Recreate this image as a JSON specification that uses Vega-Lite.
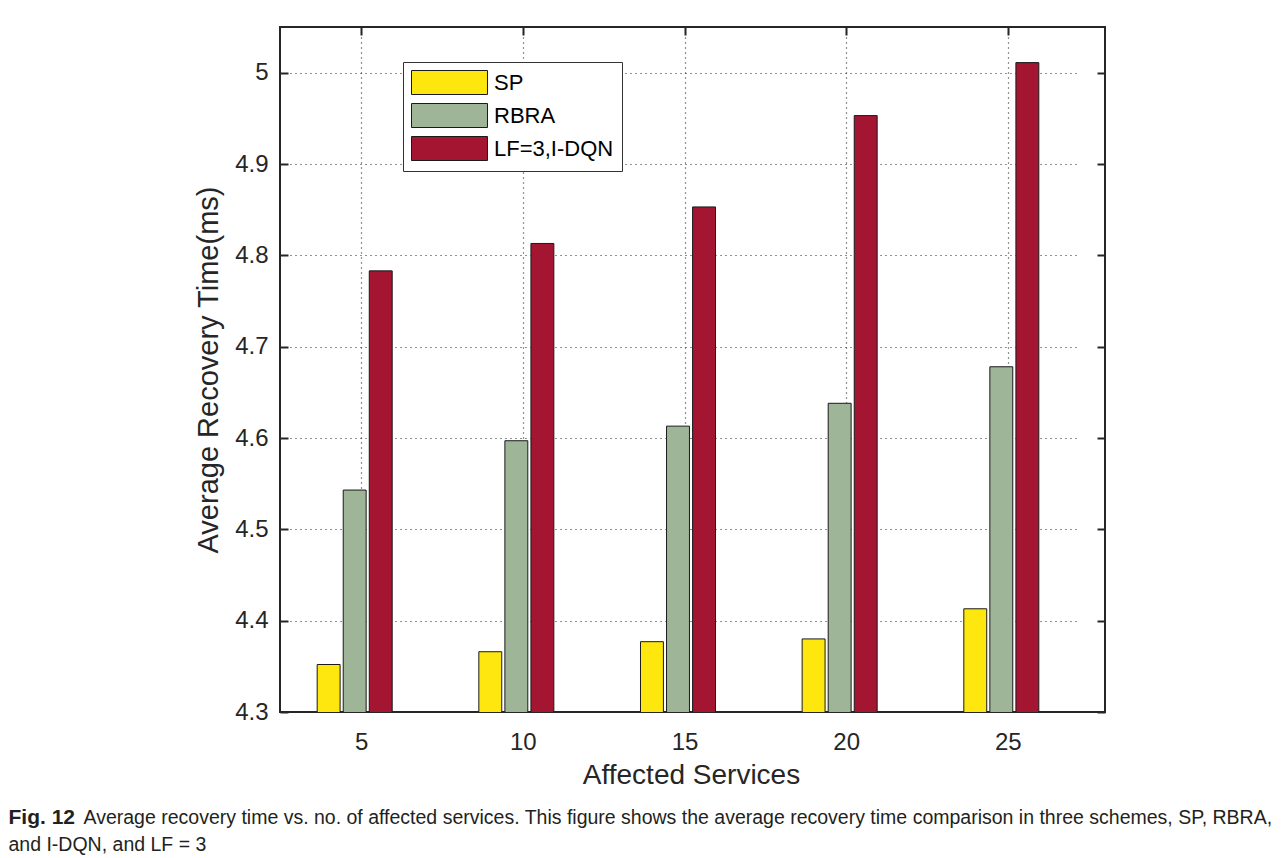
{
  "$schema": "https://vega.github.io/schema/vega-lite/v6.json",
  "width": 825,
  "height": 685,
  "autosize": "none",
  "padding": {"left": 280, "top": 27, "right": 179, "bottom": 146},
  "background": "white",
  "config": {
    "font": "Liberation Sans",
    "view": {"stroke": "#262626", "strokeWidth": 2}
  },
  "data": {
    "values": [
      {"services": 5, "scheme": "SP", "time": 4.352},
      {"services": 5, "scheme": "RBRA", "time": 4.543},
      {"services": 5, "scheme": "LF=3,I-DQN", "time": 4.783},
      {"services": 10, "scheme": "SP", "time": 4.366},
      {"services": 10, "scheme": "RBRA", "time": 4.597},
      {"services": 10, "scheme": "LF=3,I-DQN", "time": 4.813},
      {"services": 15, "scheme": "SP", "time": 4.377},
      {"services": 15, "scheme": "RBRA", "time": 4.613},
      {"services": 15, "scheme": "LF=3,I-DQN", "time": 4.853},
      {"services": 20, "scheme": "SP", "time": 4.380},
      {"services": 20, "scheme": "RBRA", "time": 4.638},
      {"services": 20, "scheme": "LF=3,I-DQN", "time": 4.953},
      {"services": 25, "scheme": "SP", "time": 4.413},
      {"services": 25, "scheme": "RBRA", "time": 4.678},
      {"services": 25, "scheme": "LF=3,I-DQN", "time": 5.011}
    ]
  },
  "layer": [
    {
      "mark": {"type": "bar", "stroke": "#1a1a1a", "strokeWidth": 1, "clip": true},
      "encoding": {
        "x": {
          "field": "services",
          "type": "ordinal",
          "scale": {"range": [0, 796], "paddingInner": 0.536, "paddingOuter": 0.23},
          "axis": {
            "orient": "bottom",
            "title": "Affected Services",
            "labelAngle": 0,
            "domain": false,
            "ticks": true,
            "tickSize": -8,
            "tickWidth": 2,
            "tickColor": "#262626",
            "tickOffset": 6.5,
            "grid": true,
            "gridColor": "#262626",
            "gridDash": [1, 4],
            "gridWidth": 1.2,
            "labelFontSize": 24,
            "labelColor": "#262626",
            "labelPadding": 26,
            "titleFontSize": 28,
            "titleFontWeight": "normal",
            "titleColor": "#262626",
            "titlePadding": 7,
            "titleX": 411
          }
        },
        "xOffset": {
          "field": "scheme",
          "type": "nominal",
          "sort": ["SP", "RBRA", "LF=3,I-DQN"],
          "scale": {"paddingInner": 0.12, "paddingOuter": 0}
        },
        "y": {
          "field": "time",
          "type": "quantitative",
          "scale": {"domain": [4.3, 5.05], "zero": false, "nice": false},
          "axis": {
            "orient": "left",
            "title": "Average Recovery Time(ms)",
            "values": [4.3, 4.4, 4.5, 4.6, 4.7, 4.8, 4.9, 5],
            "format": "~g",
            "domain": false,
            "tickSize": -8,
            "tickWidth": 2,
            "tickColor": "#262626",
            "grid": true,
            "gridColor": "#262626",
            "gridDash": [1, 4],
            "gridWidth": 1.2,
            "labelFontSize": 24,
            "labelColor": "#262626",
            "labelPadding": 20,
            "titleFontSize": 29,
            "titleFontWeight": "normal",
            "titleColor": "#262626",
            "titlePadding": 11
          }
        },
        "color": {
          "field": "scheme",
          "type": "nominal",
          "scale": {"domain": ["SP", "RBRA", "LF=3,I-DQN"], "range": ["#fee60f", "#9eb697", "#a31530"]},
          "legend": {
            "title": null,
            "orient": "none",
            "legendX": 123,
            "legendY": 35,
            "padding": 8,
            "strokeColor": "#333333",
            "fillColor": "white",
            "symbolType": "M-1,-1H5.333V1H-1Z",
            "symbolSize": 576,
            "symbolStrokeColor": "#1a1a1a",
            "symbolStrokeWidth": 1,
            "symbolOpacity": 1,
            "labelFont": "Liberation Sans",
            "labelFontSize": 22,
            "labelColor": "#000000",
            "labelOffset": 58,
            "rowPadding": 4
          }
        }
      }
    },
    {
      "mark": {"type": "bar", "opacity": 0},
      "encoding": {
        "x": {
          "field": "services",
          "type": "ordinal",
          "axis": {
            "orient": "top",
            "title": null,
            "labels": false,
            "domain": false,
            "grid": false,
            "tickSize": -8,
            "tickWidth": 2,
            "tickColor": "#262626",
            "tickOffset": 6.5
          }
        },
        "y": {
          "field": "time",
          "type": "quantitative",
          "axis": {
            "orient": "right",
            "title": null,
            "labels": false,
            "domain": false,
            "grid": false,
            "values": [4.3, 4.4, 4.5, 4.6, 4.7, 4.8, 4.9, 5],
            "tickSize": -8,
            "tickWidth": 2,
            "tickColor": "#262626"
          }
        }
      }
    },
    {
      "mark": {"type": "rule", "opacity": 0},
      "encoding": {
        "x": {
          "field": "services",
          "type": "ordinal",
          "axis": {
            "orient": "bottom",
            "title": "Fig. 12",
            "labels": false,
            "ticks": false,
            "domain": false,
            "grid": false,
            "titleFont": "Liberation Sans",
            "titleFontSize": 21,
            "titleFontWeight": "bold",
            "titleColor": "#231f20",
            "titleAnchor": "start",
            "titleAlign": "left",
            "titleBaseline": "alphabetic",
            "titleX": -272,
            "titleY": 111
          }
        }
      }
    },
    {
      "mark": {"type": "rule", "opacity": 0},
      "encoding": {
        "x": {
          "field": "services",
          "type": "ordinal",
          "axis": {
            "orient": "bottom",
            "title": "Average recovery time vs. no. of affected services. This figure shows the average recovery time comparison in three schemes, SP, RBRA,",
            "labels": false,
            "ticks": false,
            "domain": false,
            "grid": false,
            "titleFont": "Liberation Sans",
            "titleFontSize": 19.5,
            "titleFontWeight": "normal",
            "titleColor": "#231f20",
            "titleAnchor": "start",
            "titleAlign": "left",
            "titleBaseline": "alphabetic",
            "titleLimit": 1300,
            "titleX": -197,
            "titleY": 111
          }
        }
      }
    },
    {
      "mark": {"type": "rule", "opacity": 0},
      "encoding": {
        "x": {
          "field": "services",
          "type": "ordinal",
          "axis": {
            "orient": "bottom",
            "title": "and I-DQN, and LF = 3",
            "labels": false,
            "ticks": false,
            "domain": false,
            "grid": false,
            "titleFont": "Liberation Sans",
            "titleFontSize": 19.5,
            "titleFontWeight": "normal",
            "titleColor": "#231f20",
            "titleAnchor": "start",
            "titleAlign": "left",
            "titleBaseline": "alphabetic",
            "titleX": -272,
            "titleY": 138
          }
        }
      }
    }
  ],
  "resolve": {"axis": {"x": "independent", "y": "independent"}}
}
